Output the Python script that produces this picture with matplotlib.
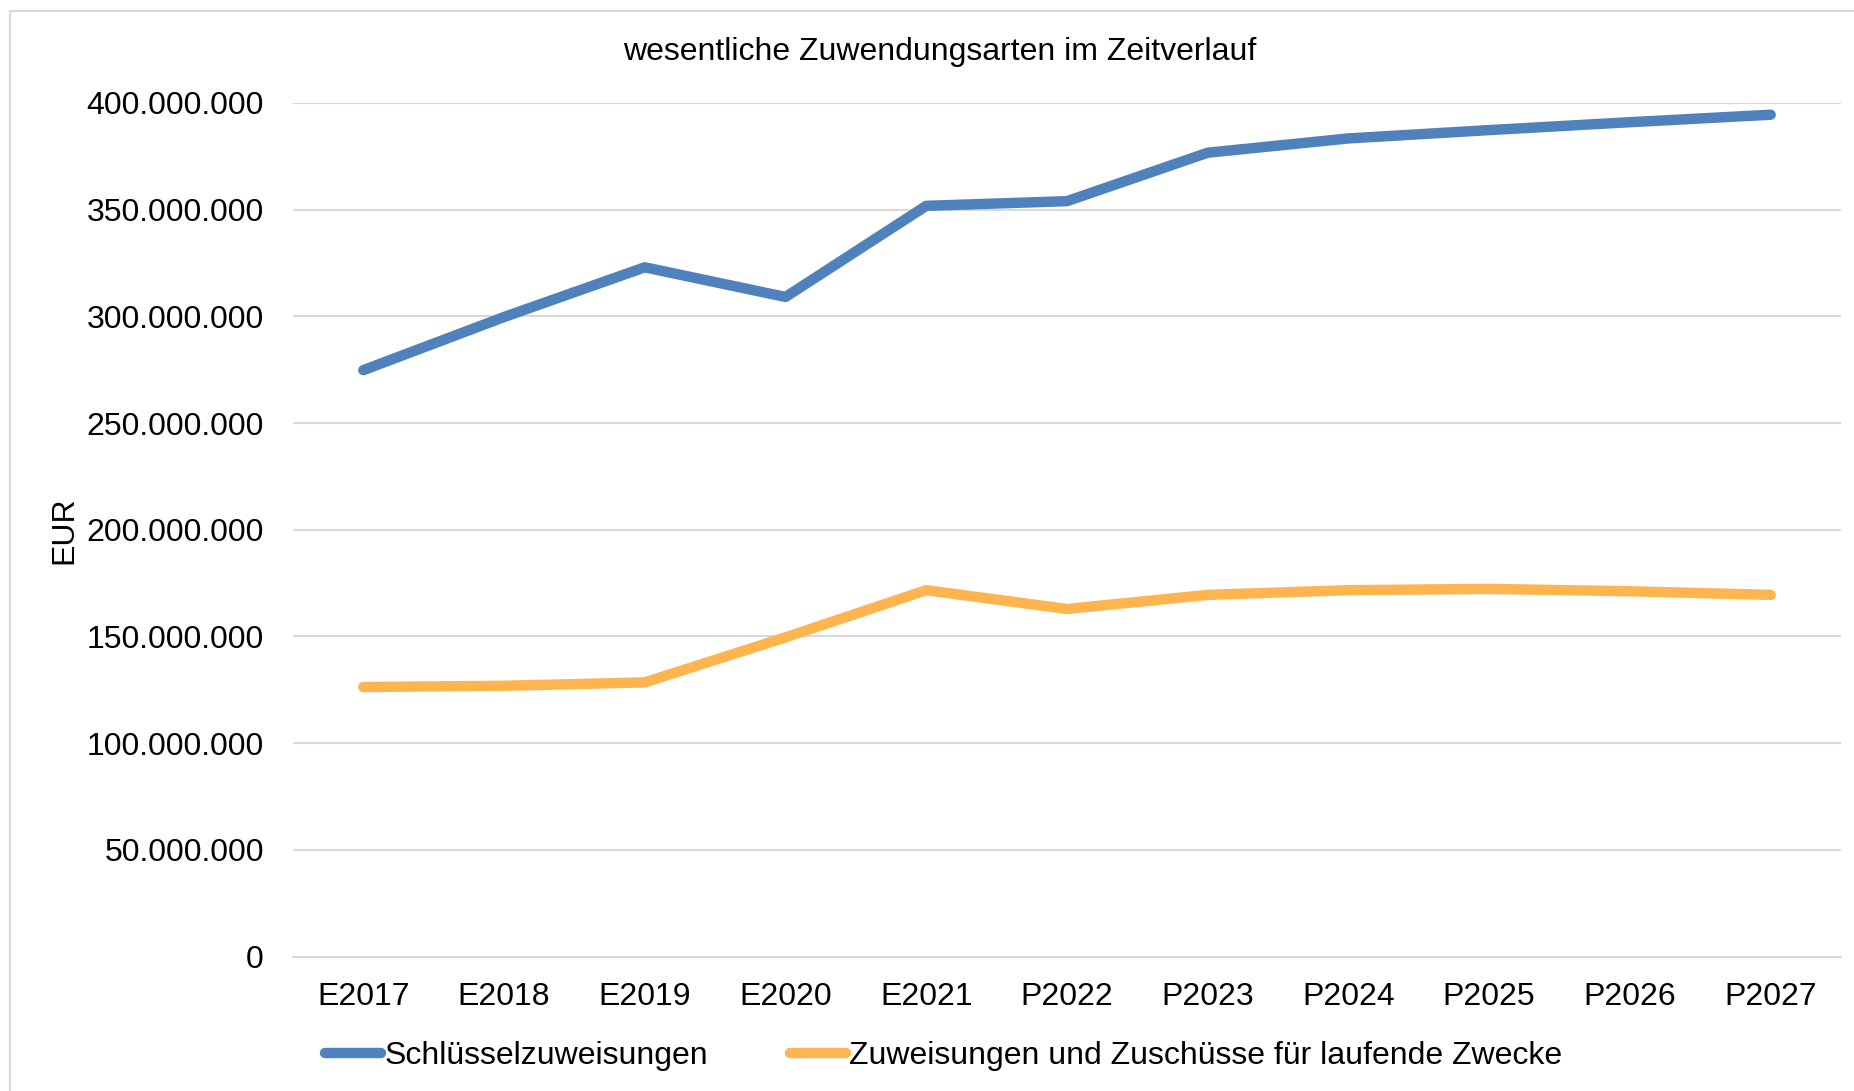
import matplotlib.pyplot as plt
import matplotlib.patches as mpatch
from matplotlib.ticker import FuncFormatter

plt.rcParams['font.family'] = ['Liberation Sans', 'DejaVu Sans']

years = ['E2017', 'E2018', 'E2019', 'E2020', 'E2021', 'P2022',
         'P2023', 'P2024', 'P2025', 'P2026', 'P2027']

# values in EUR
schluessel = [274.8e6, 299.7e6, 323.0e6, 309.1e6, 351.8e6, 354.0e6,
              376.7e6, 383.4e6, 387.3e6, 391.0e6, 394.5e6]
laufend = [126.3e6, 126.9e6, 128.5e6, 149.6e6, 171.7e6, 162.9e6,
           169.5e6, 171.7e6, 172.3e6, 171.2e6, 169.5e6]

labels = ['Schlüsselzuweisungen',
          'Zuweisungen und Zuschüsse für laufende Zwecke']
colors = ['#4F81BD', '#FFB54F']

fig = plt.figure(figsize=(18.54, 10.91), dpi=100)
ax = fig.add_axes([0.158, 0.1232, 0.835, 0.7824])

x = range(len(years))
ax.plot(x, schluessel, color=colors[0], lw=7.5, solid_capstyle='round',
        solid_joinstyle='round', label=labels[0], zorder=3)
ax.plot(x, laufend, color=colors[1], lw=7.5, solid_capstyle='round',
        solid_joinstyle='round', label=labels[1], zorder=3)

ax.set_xlim(-0.5, len(years) - 0.5)
ax.set_ylim(0, 400e6)
ax.set_yticks(range(0, 400_000_001, 50_000_000))
ax.yaxis.set_major_formatter(
    FuncFormatter(lambda v, p: f'{int(v):,}'.replace(',', '.')))
ax.set_xticks(list(x))
ax.set_xticklabels(years)

ax.grid(axis='y', color='#D9D9D9', lw=1.5)
ax.set_axisbelow(True)
for side in ['top', 'right', 'left']:
    ax.spines[side].set_visible(False)
ax.spines['bottom'].set_color('#D9D9D9')
ax.spines['bottom'].set_linewidth(1.5)
ax.tick_params(axis='both', length=0, labelsize=23, colors='black')
ax.tick_params(axis='y', pad=21)
ax.tick_params(axis='x', pad=18.5)

ax.set_ylabel('EUR', fontsize=23)
ax.yaxis.set_label_coords(-0.138, 0.5)

fig.text(0.507, 0.952, 'wesentliche Zuwendungsarten im Zeitverlauf',
         ha='center', va='center', fontsize=23)

fig.legend(loc='center', bbox_to_anchor=(0.509, 0.032), ncol=2,
           frameon=False, fontsize=23, handlelength=1.75,
           handletextpad=0.1, columnspacing=2.55)

# outer chart border
fig.patches.append(mpatch.Rectangle((10 / 1854, -0.05), 1.1, 1 - 11 / 1091 + 0.05,
                                    transform=fig.transFigure, fill=False,
                                    edgecolor='#D9D9D9', lw=1.5))

fig.savefig('out.png', dpi=100)
